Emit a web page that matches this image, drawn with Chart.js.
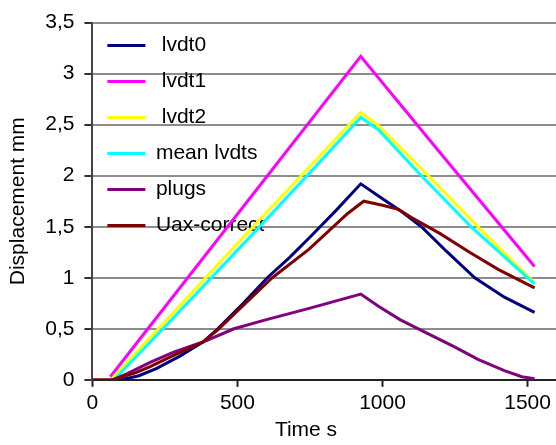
<!DOCTYPE html>
<html>
<head>
<meta charset="utf-8">
<script src="https://cdn.jsdelivr.net/npm/chart.js@4/dist/chart.umd.min.js"></script>
<style>
    html, body { margin: 0; padding: 0; background: #fff; overflow: hidden; }
    #wrap { width: 700px; height: 445px; position: relative; }
</style>
</head>
<body>
<div id="wrap"><canvas id="dispChart"></canvas></div>
<script>
// values (time in s, displacement in mm)
const lvdt0Time = [100, 160, 220, 300, 381, 432, 520, 603, 680, 747, 840, 925, 986, 1060, 1134, 1220, 1318, 1420, 1524];
const lvdt0 = [0, 0.04, 0.11, 0.23, 0.37, 0.5, 0.75, 1.0, 1.2, 1.39, 1.66, 1.92, 1.80, 1.66, 1.5, 1.26, 1.0, 0.81, 0.66];

const lvdt1Time = [62, 925, 1200, 1524];
const lvdt1 = [0.03, 3.17, 2.22, 1.11];

const lvdt2Time = [70, 300, 541, 750, 925, 986, 1158, 1329, 1524];
const lvdt2 = [0.02, 0.72, 1.46, 2.09, 2.62, 2.49, 2.0, 1.5, 0.95];

const meanTime = [78, 300, 550, 750, 925, 986, 1134, 1305, 1524];
const meanLvdts = [0.01, 0.67, 1.42, 2.03, 2.57, 2.45, 2.0, 1.5, 0.94];

const plugsTime = [70, 120, 199, 280, 381, 488, 600, 747, 925, 986, 1060, 1158, 1250, 1329, 1420, 1480, 1524];
const plugs = [0, 0.06, 0.17, 0.27, 0.37, 0.5, 0.59, 0.70, 0.84, 0.72, 0.59, 0.45, 0.32, 0.2, 0.09, 0.03, 0.01];

const uaxTime = [0, 70, 150, 199, 280, 381, 432, 520, 620, 747, 880, 935, 1000, 1055, 1100, 1200, 1300, 1400, 1524];
const uaxCorrect = [0, 0, 0.07, 0.13, 0.24, 0.37, 0.49, 0.73, 1.0, 1.28, 1.63, 1.75, 1.71, 1.67, 1.59, 1.43, 1.25, 1.08, 0.9];

const seriesLabels = [' lvdt0', ' lvdt1', ' lvdt2', 'mean lvdts', 'plugs', 'Uax-correct'];
const seriesColors = ['#000080', '#ff00ff', '#ffff00', '#00ffff', '#800080', '#800000'];

const yTicks = [0, 0.5, 1, 1.5, 2, 2.5, 3, 3.5];
const xTicks = [0, 500, 1000, 1500, 2000];

const FONT = "'Liberation Sans', Arial, sans-serif";

function pairs(times, values) {
    return times.map((t, i) => ({ x: t, y: values[i] }));
}

const allSeries = [
    pairs(lvdt0Time, lvdt0),
    pairs(lvdt1Time, lvdt1),
    pairs(lvdt2Time, lvdt2),
    pairs(meanTime, meanLvdts),
    pairs(plugsTime, plugs),
    pairs(uaxTime, uaxCorrect)
];

// x axis title sits left of the plot centre in the original
const xTitlePlugin = {
    id: 'xTitle',
    afterDraw(chart) {
        const ctx = chart.ctx;
        ctx.save();
        ctx.font = '21px ' + FONT;
        ctx.fillStyle = '#000';
        ctx.textAlign = 'center';
        ctx.textBaseline = 'middle';
        ctx.fillText('Time s', 306, 430);
        ctx.restore();
    }
};

new Chart(document.getElementById('dispChart'), {
    type: 'line',
    data: {
        datasets: allSeries.map((data, i) => ({
            label: seriesLabels[i],
            data: data,
            borderColor: seriesColors[i],
            backgroundColor: seriesColors[i],
            borderWidth: 3,
            pointRadius: 0,
            tension: 0,
            fill: false,
            order: seriesLabels.length - i
        }))
    },
    options: {
        responsive: true,
        maintainAspectRatio: false,
        animation: false,
        layout: {
            padding: { top: 8, left: 6, right: 0, bottom: 25 }
        },
        plugins: {
            tooltip: { enabled: false },
            legend: {
                position: 'chartArea',
                align: 'start',
                // empty title only pushes the entries down a little
                title: { display: true, text: ' ', font: { size: 10 }, padding: 4 },
                labels: {
                    usePointStyle: true,
                    pointStyle: 'line',
                    pointStyleWidth: 38,
                    padding: 15,
                    color: '#000',
                    font: { family: FONT, size: 21 },
                    sort: (a, b) => a.datasetIndex - b.datasetIndex
                }
            }
        },
        scales: {
            x: {
                type: 'linear',
                min: 0,
                max: 2000,
                afterBuildTicks: (scale) => { scale.ticks = xTicks.map(v => ({ value: v })); },
                grid: { drawOnChartArea: false, tickLength: 7, tickColor: '#222', tickWidth: 2 },
                border: { color: '#222', width: 2 },
                ticks: {
                    color: '#000',
                    font: { family: FONT, size: 21 },
                    padding: 4,
                    maxRotation: 0,
                    callback: (v) => String(v)
                }
            },
            y: {
                min: 0,
                max: 3.5,
                afterBuildTicks: (scale) => { scale.ticks = yTicks.map(v => ({ value: v })); },
                grid: { color: '#8c8c8c', lineWidth: 2, tickLength: 8, tickColor: '#333', tickWidth: 2 },
                border: { color: '#444', width: 2 },
                ticks: {
                    color: '#000',
                    font: { family: FONT, size: 21 },
                    padding: 10,
                    callback: (v) => String(v).replace('.', ',')
                },
                title: {
                    display: true,
                    text: 'Displacement mm',
                    color: '#000',
                    font: { family: FONT, size: 21 },
                    padding: { top: 0, bottom: 4 }
                }
            }
        }
    },
    plugins: [xTitlePlugin]
});
</script>
</body>
</html>
